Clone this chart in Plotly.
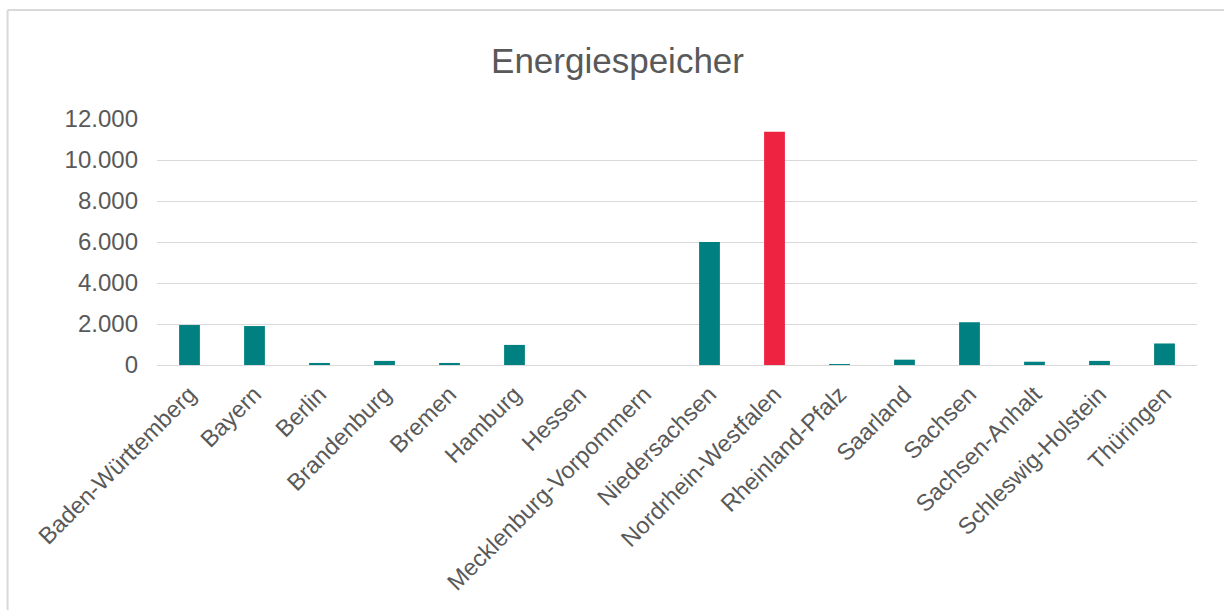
import plotly.graph_objects as go

categories = ["Baden-Württemberg", "Bayern", "Berlin", "Brandenburg", "Bremen", "Hamburg",
              "Hessen", "Mecklenburg-Vorpommern", "Niedersachsen", "Nordrhein-Westfalen",
              "Rheinland-Pfalz", "Saarland", "Sachsen", "Sachsen-Anhalt",
              "Schleswig-Holstein", "Thüringen"]
values = [1950, 1900, 100, 200, 100, 980, 0, 0, 6000, 11380, 30, 260, 2080, 160, 200, 1050]
highlight = "Nordrhein-Westfalen"
y_ticks = [0, 2000, 4000, 6000, 8000, 10000, 12000]
y_tick_labels = ["0", "2.000", "4.000", "6.000", "8.000", "10.000", "12.000"]

TEAL = "#008080"
RED = "#ED2341"
TEXT = "#595959"
GRID = "#D9D9D9"

colors = [RED if c == highlight else TEAL for c in categories]

fig = go.Figure(go.Bar(x=categories, y=values, marker_color=colors,
                       marker_line_width=0, width=0.32))

W, H = 1224, 610
L, R, T, B = 156.5, 27, 119, 245
pw = W - L - R
ph = H - T - B

def px_x(p):
    return (p - L) / pw

def px_y(p):
    return (H - B - p) / ph

fig.update_layout(
    width=W, height=H,
    margin=dict(l=L, r=R, t=T, b=B, pad=0),
    paper_bgcolor="white", plot_bgcolor="white",
    font=dict(family="Liberation Sans, Arial, sans-serif", color=TEXT, size=23),
    title=dict(text="Energiespeicher", x=617.5 / W, xanchor="center",
               y=1 - 61 / H, yanchor="middle",
               font=dict(size=35, color=TEXT)),
    showlegend=False,
    hovermode=False,
    bargap=0.68,
    xaxis=dict(tickangle=-45, showgrid=False, showline=False, ticks="",
               ticklabelstandoff=10,
               tickfont=dict(size=23.5, color=TEXT), automargin=False),
    yaxis=dict(range=[0, 12000], tickvals=y_ticks, ticktext=y_tick_labels,
               showgrid=True, gridcolor=GRID, gridwidth=1.3,
               zeroline=True, zerolinecolor=GRID, zerolinewidth=1.3,
               showline=False, ticks="", ticklabelstandoff=18,
               tickfont=dict(size=24, color=TEXT), automargin=False),
    shapes=[
        dict(type="line", xref="paper", yref="paper",
             x0=px_x(7), x1=px_x(7), y0=px_y(10), y1=px_y(615),
             line=dict(color=GRID, width=2)),
        dict(type="line", xref="paper", yref="paper",
             x0=px_x(7), x1=px_x(1230), y0=px_y(10), y1=px_y(10),
             line=dict(color=GRID, width=2)),
    ],
)

fig.write_html("out.html")
